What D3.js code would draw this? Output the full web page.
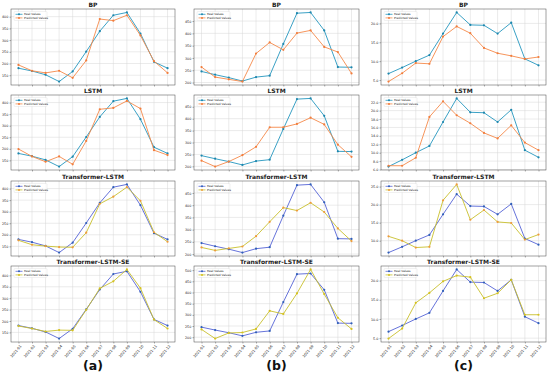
<!DOCTYPE html>
<html>
<head>
<meta charset="utf-8">
<script src="https://cdn.jsdelivr.net/npm/d3@7.9.0/dist/d3.min.js"></script>
<style>
  body { margin: 0; background: #fff; }
  svg text { font-family: "DejaVu Sans", sans-serif; }
</style>
</head>
<body>
<svg id="chart" width="550" height="376"></svg>
<script>
const months = ["2021-01", "2021-02", "2021-03", "2021-04", "2021-05", "2021-06",
  "2021-07", "2021-08", "2021-09", "2021-10", "2021-11", "2021-12"];
const methods = ["BP", "LSTM", "Transformer-LSTM", "Transformer-LSTM-SE"];
const tags = ["(a)", "(b)", "(c)"];

// column (a)
const realA = [180, 168, 152, 123, 166, 251, 338, 406, 418, 328, 207, 180];
const bpA = [194, 169, 160, 169, 139, 213, 390, 383, 406, 320, 210, 160];
const lstmA = [199, 167, 144, 167, 133, 234, 371, 377, 407, 374, 194, 173];
const tlA = [176, 157, 151, 147, 146, 209, 334, 365, 406, 347, 211, 170];
const tlseA = [178, 167, 154, 160, 159, 249, 343, 374, 426, 344, 206, 167];

// column (b)
const realB = [245, 232, 220, 206, 222, 228, 357, 482, 485, 412, 263, 262];
const bpB = [263, 222, 213, 204, 318, 363, 333, 401, 412, 345, 324, 237];
const lstmB = [224, 199, 220, 247, 282, 364, 364, 378, 404, 376, 291, 240];
const tlB = [227, 215, 223, 231, 273, 332, 390, 378, 410, 372, 305, 253];
const tlseB = [235, 194, 219, 221, 237, 318, 304, 396, 503, 393, 287, 237];

// column (c)
const realC = [6.7, 8.3, 10.0, 11.6, 17.3, 22.9, 19.6, 19.5, 17.3, 20.2, 10.6, 8.9];
const bpC = [4.6, 6.8, 9.5, 9.3, 16.5, 19.2, 17.4, 13.5, 12.1, 11.4, 10.6, 11.1];
const lstmC = [6.9, 6.9, 8.8, 18.5, 22.2, 18.9, 17.0, 14.7, 13.4, 16.5, 12.4, 10.6];
const tlC = [11.2, 10.0, 8.1, 8.3, 21.2, 25.6, 15.8, 18.5, 15.2, 14.9, 10.3, 11.7];
const tlseC = [4.9, 7.5, 14.2, 16.8, 19.8, 21.3, 20.9, 15.4, 16.7, 20.2, 11.1, 11.1];

const columns = [
  { real: realA, preds: [bpA, lstmA, tlA, tlseA], x0: 11, x1: 175, fmt: d3.format("d") },
  { real: realB, preds: [bpB, lstmB, tlB, tlseB], x0: 194, x1: 359, fmt: d3.format("d") },
  { real: realC, preds: [bpC, lstmC, tlC, tlseC], x0: 381, x1: 546, fmt: d3.format(".1f") }
];
const rows = [[9, 85], [95, 170], [181, 256], [266, 342]];

// first two rows teal/orange, last two blue/yellow
const realColors = ["#2596be", "#2596be", "#5563d6", "#5563d6"];
const predColors = ["#f5894a", "#f5894a", "#c8c02c", "#c8c02c"];
const realMarks = ["#1c86ad", "#1c86ad", "#2f5fb8", "#2f5fb8"];
const predMarks = ["#f27d3c", "#f27d3c", "#f09a3a", "#d6c21e"];

const svg = d3.select("#chart");

columns.forEach((col, ci) => {
  const x = d3.scaleLinear().domain([-0.55, 11.55]).range([col.x0, col.x1]);

  rows.forEach(([y0, y1], ri) => {
    const pred = col.preds[ri];
    const all = col.real.concat(pred);
    const lo = d3.min(all), hi = d3.max(all), pad = (hi - lo) * 0.05;
    const y = d3.scaleLinear().domain([lo - pad, hi + pad]).range([y1, y0]);
    const g = svg.append("g");

    // grid
    g.selectAll(".gx").data(months).join("line")
      .attr("x1", (d, i) => x(i)).attr("x2", (d, i) => x(i))
      .attr("y1", y0).attr("y2", y1)
      .attr("stroke", "#d6d6d6").attr("stroke-width", 0.5);
    const yTicks = y.ticks(6);
    g.selectAll(".gy").data(yTicks).join("line")
      .attr("x1", col.x0).attr("x2", col.x1)
      .attr("y1", d => y(d)).attr("y2", d => y(d))
      .attr("stroke", "#d6d6d6").attr("stroke-width", 0.5);

    // axes
    const yAxis = d3.axisLeft(y).tickValues(yTicks).tickFormat(col.fmt).tickSize(1.5).tickPadding(1.2);
    const ga = g.append("g").attr("transform", `translate(${col.x0},0)`).call(yAxis);
    ga.select(".domain").remove();
    ga.selectAll("line").attr("stroke", "#333").attr("stroke-width", 0.4);
    ga.selectAll("text").attr("font-size", 3.3).attr("fill", "#222");

    const xAxis = d3.axisBottom(x).tickValues(d3.range(months.length))
      .tickFormat(i => ri === 3 ? months[i] : "").tickSize(1.5).tickPadding(1);
    const gx = g.append("g").attr("transform", `translate(0,${y1})`).call(xAxis);
    gx.select(".domain").remove();
    gx.selectAll("line").attr("stroke", "#333").attr("stroke-width", 0.4);
    if (ri === 3) {
      gx.selectAll("text")
        .attr("font-size", 3.6).attr("fill", "#222")
        .attr("text-anchor", "end")
        .attr("dy", "0.3em")
        .attr("transform", "translate(0,2) rotate(-50)");
    }

    // frame
    g.append("rect").attr("x", col.x0).attr("y", y0)
      .attr("width", col.x1 - col.x0).attr("height", y1 - y0)
      .attr("fill", "none").attr("stroke", "#444").attr("stroke-width", 0.5);

    // title
    g.append("text").attr("x", (col.x0 + col.x1) / 2).attr("y", y0 - 2)
      .attr("text-anchor", "middle").attr("font-size", 6)
      .attr("font-family", "DejaVu Sans Mono").attr("font-weight", "bold")
      .attr("fill", "#222").text(methods[ri]);

    // series
    const line = d3.line().x((d, i) => x(i)).y(d => y(d));
    const series = [
      { data: col.real, c: realColors[ri], m: realMarks[ri] },
      { data: pred, c: predColors[ri], m: predMarks[ri] }
    ];
    series.forEach(s => {
      g.append("path").attr("d", line(s.data)).attr("fill", "none")
        .attr("stroke", s.c).attr("stroke-width", 0.9);
      g.selectAll(null).data(s.data).join("circle")
        .attr("cx", (d, i) => x(i)).attr("cy", d => y(d)).attr("r", 1.1)
        .attr("fill", s.m);
    });

    // legend
    const lx = col.x0 + 3, ly = y0 + 2.5;
    const lg = g.append("g");
    lg.append("rect").attr("x", lx).attr("y", ly).attr("width", 33).attr("height", 9)
      .attr("rx", 1).attr("fill", "#fff").attr("fill-opacity", 0.85)
      .attr("stroke", "#d0d0d0").attr("stroke-width", 0.3);
    ["Real Values", "Predicted Values"].forEach((lab, k) => {
      const yy = ly + 2.8 + k * 3.6;
      const s = series[k];
      lg.append("line").attr("x1", lx + 1.5).attr("x2", lx + 8.5)
        .attr("y1", yy).attr("y2", yy).attr("stroke", s.c).attr("stroke-width", 0.8);
      lg.append("circle").attr("cx", lx + 5).attr("cy", yy).attr("r", 1).attr("fill", s.m);
      lg.append("text").attr("x", lx + 10).attr("y", yy).attr("dy", "0.35em")
        .attr("font-size", 2.9).attr("fill", "#222").text(lab);
    });
  });

  svg.append("text").attr("x", (col.x0 + col.x1) / 2).attr("y", 370)
    .attr("text-anchor", "middle").attr("font-size", 12.5)
    .attr("font-family", "Liberation Serif").attr("font-weight", "bold")
    .attr("fill", "#111").text(tags[ci]);
});
</script>
</body>
</html>
